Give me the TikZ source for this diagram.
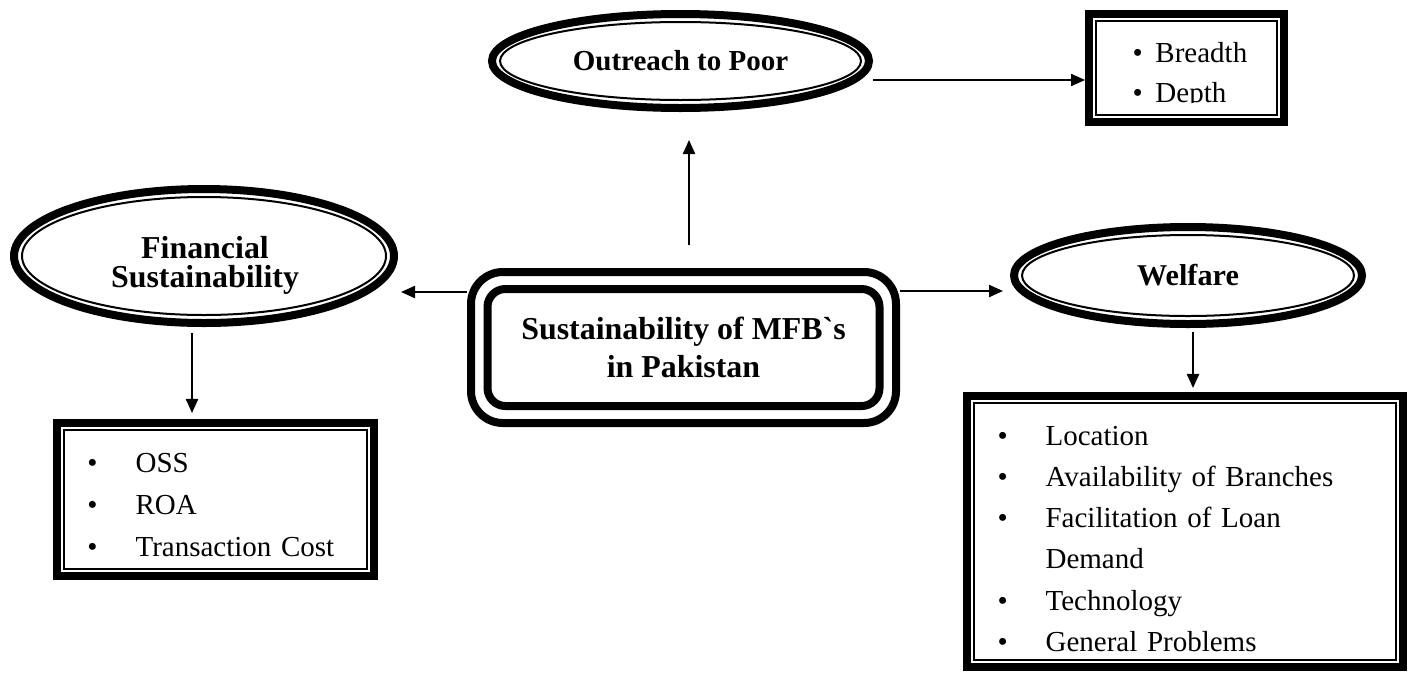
\documentclass[tikz,border=0pt]{standalone}
\usepackage{fontspec}
\setmainfont{Liberation Serif}
\usepackage{tikz}
\usetikzlibrary{shapes,arrows.meta,positioning,calc}
\newcommand{\pxu}{0.4138pt}
\newcommand{\gravetick}{\XeTeXglyph\XeTeXcharglyph"60\relax}
\newcommand{\bulletrow}[2][19.9pt]{\makebox[#1][l]{\textbullet}#2}
\tikzset{%
  ringOuter/.style={%
    ellipse,
    draw=black,
    line width=8*\pxu,
    inner sep=0pt
  },
  ringInner/.style={%
    ellipse,
    draw=black,
    line width=2*\pxu,
    inner sep=0pt
  },
  frameOuter/.style={%
    rectangle,
    draw=black,
    line width=8*\pxu,
    inner sep=0pt
  },
  frameInner/.style={%
    rectangle,
    draw=black,
    line width=2*\pxu,
    inner sep=0pt
  },
  headText/.style={%
    font=\fontsize{13.2}{12}\selectfont\bfseries,
    align=center
  },
  listText/.style={%
    inner sep=0pt,
    align=left,
    anchor=base west
  },
  arrowLine/.style={%
    -{Triangle[length=5.8pt,width=5pt]},
    line width=2*\pxu,
    color=black
  }
}

\begin{document}
\begin{tikzpicture}[x=\pxu, y=-\pxu]
\useasboundingbox (0,0) rectangle (1415,673);

% centre
\node[frameOuter, rounded corners=13.2pt, minimum width=425*\pxu, minimum height=151*\pxu,
      font=\fontsize{13.2}{16}\selectfont\bfseries, align=center] (mfb) at (683.5,347.5)
      {Sustainability of MFB\gravetick s\\in Pakistan};
\node[frameOuter, rounded corners=7.4pt, minimum width=392*\pxu, minimum height=117*\pxu] (mfbIn) at (mfb.center) {};

% outreach
\node[ringOuter, minimum width=377*\pxu, minimum height=94*\pxu,
      font=\fontsize{12}{14}\selectfont\bfseries] (outreach) at (680.5,61) {Outreach to Poor};
\node[ringInner, minimum width=361*\pxu, minimum height=78*\pxu] (outreachIn) at (outreach.center) {};

\node[frameOuter, minimum width=195*\pxu, minimum height=108*\pxu] (breadth) at (1186.5,68) {};
\node[frameInner, minimum width=181*\pxu, minimum height=94*\pxu] (breadthIn) at (breadth.center) {};
\begin{scope}
  \clip (breadthIn.north west) rectangle ([yshift=14*\pxu]breadthIn.south east);
  \node[listText, text width=140*\pxu, font=\fontsize{12}{16.6}\selectfont] (breadthItems) at (1132,62)
    {\bulletrow[9.5pt]{Breadth}\\\bulletrow[9.5pt]{Depth}};
\end{scope}

% financial
\node[ringOuter, minimum width=380*\pxu, minimum height=134*\pxu] (financial) at (204,256) {};
\node[ringInner, minimum width=364*\pxu, minimum height=118*\pxu] (financialIn) at (financial.center) {};
\node[headText, text width=240*\pxu, anchor=base] (financialText) at (205,258) {Financial\\Sustainability};

\node[frameOuter, minimum width=317*\pxu, minimum height=153*\pxu] (finBox) at (215.5,499.5) {};
\node[frameInner, minimum width=303*\pxu, minimum height=139*\pxu] (finBoxIn) at (finBox.center) {};
\node[listText, text width=270*\pxu, font=\fontsize{12}{17.5}\selectfont] (finItems) at (87,472)
  {\bulletrow{OSS}\\\bulletrow{ROA}\\\bulletrow{Transaction Cost}};

% welfare
\node[ringOuter, minimum width=348*\pxu, minimum height=97*\pxu,
      font=\fontsize{12.5}{15}\selectfont\bfseries] (welfare) at (1188,275.5) {Welfare};
\node[ringInner, minimum width=332*\pxu, minimum height=81*\pxu] (welfareIn) at (welfare.center) {};

\node[frameOuter, minimum width=436*\pxu, minimum height=271*\pxu] (welfareBox) at (1185,531.5) {};
\node[frameInner, minimum width=422*\pxu, minimum height=257*\pxu] (welfareBoxIn) at (welfareBox.center) {};
\node[listText, text width=400*\pxu, font=\fontsize{12}{17.1}\selectfont] (welfareItems) at (997,445)
  {\bulletrow{Location}\\\bulletrow{Availability of Branches}\\\bulletrow{Facilitation of Loan}\\
   \hspace*{19.9pt}Demand\\\bulletrow{Technology}\\\bulletrow{General Problems}};

% arrows
\coordinate (leftOut) at ([yshift=55.5*\pxu]mfb.west);
\coordinate (rightOut) at ([yshift=56.5*\pxu]mfb.east);
\coordinate (finDown) at ([xshift=-12*\pxu]financial.south);
\coordinate (welDown) at ([xshift=5*\pxu]welfare.south);
\draw[arrowLine, shorten <=23*\pxu, shorten >=28*\pxu] ([xshift=5.5*\pxu]mfb.north) -- ([xshift=8.5*\pxu]outreach.south);
\draw[arrowLine] ([yshift=-19*\pxu]outreach.east) -- ([yshift=-12*\pxu]breadth.west);
\draw[arrowLine, shorten >=3*\pxu] (leftOut) -- (leftOut -| financial.east);
\draw[arrowLine, shorten >=7*\pxu] (rightOut) -- (rightOut -| welfare.west);
\draw[arrowLine, shorten <=6*\pxu, shorten >=6*\pxu] (finDown) -- (finDown |- finBox.north);
\draw[arrowLine, shorten <=4*\pxu, shorten >=4*\pxu] (welDown) -- (welDown |- welfareBox.north);

\end{tikzpicture}
\end{document}
